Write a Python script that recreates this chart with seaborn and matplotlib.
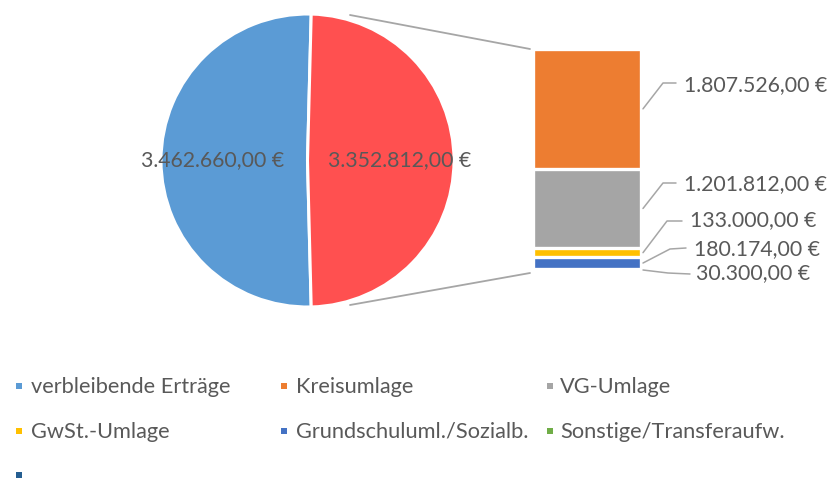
import numpy as np
import matplotlib
matplotlib.use("Agg")
import matplotlib.pyplot as plt
import seaborn as sns
from matplotlib.lines import Line2D
from matplotlib.patches import Rectangle

# ---------------- data ----------------
pie_categories = ["verbleibende Erträge", "Ausgaben"]
pie_values = [3462660.00, 3352812.00]
pie_colors = ["#5B9BD5", "#FF5050"]

bar_categories = ["Kreisumlage", "VG-Umlage", "GwSt.-Umlage",
                  "Grundschuluml./Sozialb.", "Sonstige/Transferaufw."]
bar_values = [1807526.00, 1201812.00, 133000.00, 180174.00, 30300.00]
bar_colors = ["#ED7D31", "#A5A5A5", "#FFC000", "#4472C4", "#70AD47"]

legend_labels = ["verbleibende Erträge", "Kreisumlage", "VG-Umlage",
                 "GwSt.-Umlage", "Grundschuluml./Sozialb.", "Sonstige/Transferaufw.", ""]
legend_colors = ["#5B9BD5", "#ED7D31", "#A5A5A5", "#FFC000", "#4472C4", "#70AD47", "#255E91"]


def fmt_eur(v):
    s = f"{v:,.2f}".replace(",", "X").replace(".", ",").replace("X", ".")
    return s + " €"


# ---------------- style ----------------
sns.set_theme(style="white")
plt.rcParams["font.family"] = ["Lato", "DejaVu Sans"]
TXT = "#595959"
LINE = "#A6A6A6"
LABEL_FS = 15.3
LEGEND_FS = 15.7

W, H = 834, 484
fig = plt.figure(figsize=(W / 100, H / 100), dpi=100)
fig.patch.set_facecolor("white")


def fx(x):
    return x / W


def fy(y):
    return 1 - y / H


# ---------------- pie ----------------
cx, cy, R, L = 307.5, 160.5, 146.5, 1.08
side = 2 * L * R
ax_pie = fig.add_axes([fx(cx - L * R), fy(cy + L * R), side / W, side / H])
red_frac = pie_values[1] / sum(pie_values)
wedges, _ = ax_pie.pie(pie_values, colors=pie_colors, startangle=red_frac * 180,
                       counterclock=True,
                       wedgeprops=dict(edgecolor="white", linewidth=2.2))
ax_pie.set_xlim(-L, L)
ax_pie.set_ylim(-L, L)
ax_pie.set_aspect("equal")
ax_pie.axis("off")
for w, v, d in zip(wedges, pie_values, [0.65, 0.63]):
    th = np.deg2rad((w.theta1 + w.theta2) / 2)
    ax_pie.text(d * np.cos(th), d * np.sin(th), fmt_eur(v), ha="center", va="center",
                fontsize=LABEL_FS, color=TXT)

# ---------------- stacked bar ----------------
bx0, bx1, by0, by1 = 533, 641, 49, 271
ax_bar = fig.add_axes([fx(bx0), fy(by1), (bx1 - bx0) / W, (by1 - by0) / H])
total = sum(bar_values)
tops = [sum(bar_values[i:]) for i in range(len(bar_values))]
for top, col in zip(tops, bar_colors):
    sns.barplot(x=[0], y=[top], color=col, width=1, saturation=1, errorbar=None,
                edgecolor="white", linewidth=2.4, ax=ax_bar)
ax_bar.set_xlim(-0.5, 0.5)
ax_bar.set_ylim(0, total)
ax_bar.axis("off")
for p in ax_bar.patches:
    p.set_clip_on(False)

inv = fig.transFigure.inverted()
mids = [tops[i] - bar_values[i] / 2 for i in range(len(bar_values))]

# leader lines (pixel coords, top-origin) : elbow, end, label anchor
elbows = [(663, 83), (663, 183), (667, 221), (670, 249), (668, 273)]
ends = [(676, 83), (676, 183), (682, 221), (686, 248), (690, 274)]
label_pos = [(684, 85), (684, 184), (690, 220), (694, 249), (696, 273)]

for v, m, e, en, lp in zip(bar_values, mids, elbows, ends, label_pos):
    sx, sy = inv.transform(ax_bar.transData.transform((0.5, m)))
    sx += 2 / W
    fig.add_artist(Line2D([sx, fx(e[0]), fx(en[0])], [sy, fy(e[1]), fy(en[1])],
                          color=LINE, lw=1.1, transform=fig.transFigure))
    fig.text(fx(lp[0]), fy(lp[1]), fmt_eur(v), ha="left", va="center",
             fontsize=LABEL_FS, color=TXT)

# connector lines pie -> bar
for (x0, y0), (x1, y1) in [((350, 15), (530, 49)), ((350, 305), (530, 273))]:
    fig.add_artist(Line2D([fx(x0), fx(x1)], [fy(y0), fy(y1)], color=LINE, lw=1.3,
                          transform=fig.transFigure))

# ---------------- legend ----------------
rows_y = [386, 431, 475]
mark_x = [19, 284, 550]
text_x = [31, 296, 560]
ms = 6.5
for i, (lab, col) in enumerate(zip(legend_labels, legend_colors)):
    r, c = divmod(i, 3)
    y = rows_y[r]
    fig.add_artist(Rectangle((fx(mark_x[c] - ms / 2), fy(y + ms / 2)), ms / W, ms / H,
                             facecolor=col, edgecolor="none", transform=fig.transFigure))
    if lab:
        fig.text(fx(text_x[c]), fy(y + 1), lab, ha="left", va="center",
                 fontsize=LEGEND_FS, color=TXT)

fig.savefig("out.png", dpi=100, facecolor="white")
